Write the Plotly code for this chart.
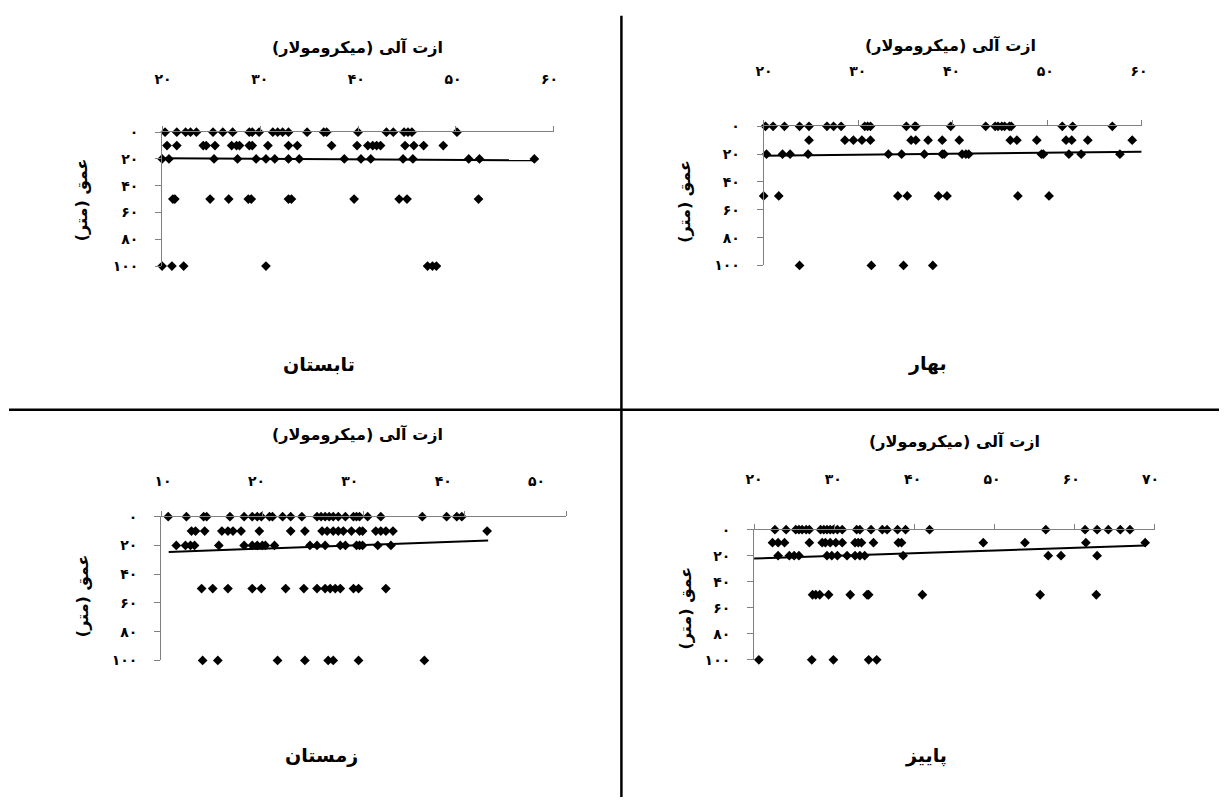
import plotly.graph_objects as go

W, H = 1225, 805
FONT = "DejaVu Sans"
RLM = "\u200f"

# ---------------- data ----------------
DEPTH_LEVELS = [0, 10, 20, 50, 100]
Y_TICKS = [0, 20, 40, 60, 80, 100]
Y_TICKTEXT = ["۰", "۲۰", "۴۰", "۶۰", "۸۰", "۱۰۰"]
X_TITLE = "ازت آلی (میکرومولار)"
Y_TITLE = "عمق (متر)"

# summer (تابستان) - nitrogen values per depth level
summer_d0 = [20.3, 21.5, 22.4, 22.9, 23.5, 25.2, 26.2, 27.2, 28.9, 29.2, 29.9, 31.3, 31.8, 32.3, 32.9,
             34.8, 36.5, 36.8, 40.0, 42.9, 43.6, 44.7, 45.1, 45.5, 50.1]
summer_d10 = [20.5, 21.5, 24.2, 24.5, 25.4, 27.1, 27.6, 27.9, 28.9, 29.2, 30.8, 32.9, 33.8, 37.3, 39.9,
              41.0, 41.5, 41.9, 42.3, 44.8, 45.7, 46.7, 48.7]
summer_d20 = [20.0, 20.7, 25.3, 27.7, 29.6, 30.6, 31.5, 32.9, 34.0, 38.6, 40.3, 41.3, 44.6, 45.6, 51.3,
              52.4, 58.0]
summer_d50 = [21.1, 21.3, 24.9, 26.8, 28.8, 29.1, 32.9, 33.2, 39.6, 44.2, 45.0, 52.3]
summer_d100 = [20.0, 21.0, 22.2, 30.6, 47.1, 47.6, 48.0]
summer_trend_x = [20.0, 58.0]
summer_trend_y = [19.5, 21.0]
summer_xticks = [20, 30, 40, 50, 60]
summer_xticktext = ["۲۰", "۳۰", "۴۰", "۵۰", "۶۰"]

# spring (بهار)
spring_d0 = [20.2, 21.0, 22.2, 23.8, 24.8, 26.7, 27.4, 28.2, 30.7, 31.0, 31.3, 35.1, 36.0, 36.1, 39.8,
             43.5, 44.5, 44.8, 45.2, 45.5, 46.0, 46.2, 51.6, 52.7, 56.9]
spring_d10 = [24.8, 28.6, 29.5, 30.4, 31.3, 35.6, 36.1, 37.4, 38.9, 40.7, 46.1, 46.8, 48.9, 52.0, 52.6,
              54.3, 59.0]
spring_d20 = [20.3, 22.0, 22.8, 24.7, 33.2, 34.6, 37.0, 38.9, 39.1, 41.0, 41.4, 41.7, 49.4, 49.6, 52.3,
              53.6, 57.7]
spring_d50 = [20.0, 21.6, 34.2, 35.2, 38.5, 39.4, 46.9, 50.2]
spring_d100 = [23.8, 31.4, 34.8, 37.9]
spring_trend_x = [20.0, 60.0]
spring_trend_y = [21.1, 18.3]
spring_xticks = [20, 30, 40, 50, 60]
spring_xticktext = ["۲۰", "۳۰", "۴۰", "۵۰", "۶۰"]

# winter (زمستان)
winter_d0 = [10.7, 12.5, 14.2, 14.5, 16.8, 18.2, 19.0, 19.5, 19.9, 20.7, 21.0, 22.0, 22.8, 23.9, 25.4,
             25.8, 26.2, 26.6, 27.0, 27.5, 28.2, 29.0, 29.3, 29.6, 30.4, 31.7, 35.8, 38.2, 39.2, 39.7]
winter_d10 = [13.0, 13.4, 14.3, 16.0, 16.6, 17.1, 17.9, 19.7, 22.8, 24.2, 25.9, 26.4, 27.0, 27.5, 28.0,
              28.8, 29.6, 29.9, 31.2, 31.7, 32.2, 32.9, 42.2]
winter_d20 = [11.5, 12.4, 12.9, 13.3, 15.7, 18.2, 19.0, 19.5, 20.0, 20.3, 21.2, 24.7, 25.4, 26.2, 27.7,
              28.2, 29.3, 29.6, 29.9, 31.4, 32.7]
winter_d50 = [14.0, 15.1, 16.6, 19.0, 19.9, 22.3, 24.1, 25.4, 26.2, 26.7, 27.2, 27.7, 29.0, 29.5, 32.2]
winter_d100 = [14.1, 15.6, 21.5, 24.2, 26.5, 27.0, 29.5, 36.0]
winter_trend_x = [10.75, 42.3]
winter_trend_y = [24.5, 16.6]
winter_xticks = [10, 20, 30, 40, 50]
winter_xticktext = ["۱۰", "۲۰", "۳۰", "۴۰", "۵۰"]

# autumn (پاییز)
autumn_d0 = [22.6, 24.0, 25.2, 25.6, 26.0, 26.5, 26.9, 28.3, 28.7, 29.1, 29.5, 29.9, 30.4, 31.0, 32.8,
             33.2, 34.6, 36.0, 36.6, 37.9, 38.9, 41.9, 56.4, 61.3, 62.8, 64.2, 65.7, 66.9]
autumn_d10 = [22.3, 23.0, 23.8, 26.9, 28.5, 28.9, 29.5, 30.2, 31.0, 32.6, 33.0, 33.4, 34.9, 38.0, 38.4,
              48.6, 53.8, 61.4, 68.8]
autumn_d20 = [23.0, 24.4, 25.0, 25.6, 29.1, 29.7, 30.4, 31.6, 32.6, 33.2, 33.8, 38.6, 56.7, 58.3, 62.8]
autumn_d50 = [27.3, 27.7, 28.2, 29.3, 32.0, 34.1, 34.3, 41.0, 55.7, 62.7]
autumn_d100 = [20.6, 27.2, 29.9, 34.3, 35.3]
autumn_trend_x = [20.0, 68.8]
autumn_trend_y = [22.1, 12.1]
autumn_xticks = [20, 30, 40, 50, 60, 70]
autumn_xticktext = ["۲۰", "۳۰", "۴۰", "۵۰", "۶۰", "۷۰"]

season_names = ["تابستان", "بهار", "زمستان", "پاییز"]

# ---------------- layout geometry (pixels) ----------------
panels = [
    dict(rows=[summer_d0, summer_d10, summer_d20, summer_d50, summer_d100],
         tx=summer_trend_x, ty=summer_trend_y, xt=summer_xticks, xtt=summer_xticktext,
         x0=155, x1=551.7, y0=126.7, y1=263.3, xr=[20, 60], lab_y=71.7, lab_px=(155, 548.3),
         xtitle=(353, 40), ytitle=(73, 196), name=(314, 363)),
    dict(rows=[spring_d0, spring_d10, spring_d20, spring_d50, spring_d100],
         tx=spring_trend_x, ty=spring_trend_y, xt=spring_xticks, xtt=spring_xticktext,
         x0=764, x1=1146.7, y0=120.7, y1=262.7, xr=[20, 60], lab_y=63.3, lab_px=(763.3, 1145),
         xtitle=(953, 38), ytitle=(683, 197), name=(930, 363)),
    dict(rows=[winter_d0, winter_d10, winter_d20, winter_d50, winter_d100],
         tx=winter_trend_x, ty=winter_trend_y, xt=winter_xticks, xtt=winter_xticktext,
         x0=154, x1=564, y0=519, y1=665.7, xr=[10, 50], lab_y=481.7, lab_px=(155, 535),
         xtitle=(353, 435), ytitle=(74, 600), name=(316, 763)),
    dict(rows=[autumn_d0, autumn_d10, autumn_d20, autumn_d50, autumn_d100],
         tx=autumn_trend_x, ty=autumn_trend_y, xt=autumn_xticks, xtt=autumn_xticktext,
         x0=754.3, x1=1160, y0=532.3, y1=665, xr=[20, 70], lab_y=480, lab_px=(753.3, 1156.7),
         xtitle=(957, 442), ytitle=(685, 612), name=(928, 763)),
]

fig = go.Figure()
layout = dict(width=W, height=H, margin=dict(l=0, r=0, t=0, b=0), showlegend=False,
              paper_bgcolor="white", plot_bgcolor="white",
              font=dict(family=FONT, color="black"))
annotations = []
AXC = "#808080"
TICKFONT = dict(family=FONT, size=14, color="black", weight="bold")

for i, p in enumerate(panels, start=1):
    xs, ys = [], []
    for depth, row in zip(DEPTH_LEVELS, p["rows"]):
        xs += row
        ys += [depth] * len(row)
    xa = "x" if i == 1 else f"x{i}"
    ya = "y" if i == 1 else f"y{i}"
    fig.add_trace(go.Scatter(x=xs, y=ys, mode="markers", xaxis=xa, yaxis=ya, cliponaxis=False,
                             marker=dict(symbol="diamond", size=7.5, color="black"), hoverinfo="skip"))
    fig.add_trace(go.Scatter(x=p["tx"], y=p["ty"], mode="lines", xaxis=xa, yaxis=ya, cliponaxis=False,
                             line=dict(color="black", width=2), hoverinfo="skip"))
    # empty trace to attach the label axis
    lab = f"x{i + 4}"
    fig.add_trace(go.Scatter(x=[], y=[], xaxis=lab, yaxis=ya, hoverinfo="skip"))

    xdom = [p["x0"] / W, p["x1"] / W]
    ydom = [1 - p["y1"] / H, 1 - p["y0"] / H]
    layout[f"xaxis{'' if i == 1 else i}"] = dict(
        domain=xdom, range=p["xr"], side="top", anchor=ya, tickvals=p["xt"], showticklabels=False,
        ticks="outside", ticklen=5, tickcolor=AXC, showline=True, linecolor=AXC, linewidth=1,
        showgrid=False, zeroline=False, fixedrange=True)
    layout[f"yaxis{'' if i == 1 else i}"] = dict(
        domain=ydom, range=[100, 0], anchor=xa, tickvals=Y_TICKS, ticktext=Y_TICKTEXT,
        ticks="outside", ticklen=6, tickcolor=AXC, showline=True, linecolor=AXC, linewidth=1,
        showgrid=False, zeroline=False, ticklabelstandoff=14, tickfont=TICKFONT, fixedrange=True)
    # label axis: tick labels sit where they are in the picture
    a_px, b_px = p["lab_px"]
    v0, v1 = p["xt"][0], p["xt"][-1]
    scale = (b_px - a_px) / (v1 - v0)
    lr = [v0 + (p["x0"] - 1 - a_px) / scale, v0 + (p["x1"] + 1 - a_px) / scale]
    layout[f"xaxis{i + 4}"] = dict(
        overlaying=xa, anchor="free", position=1 - (p["lab_y"] + 9) / H, side="top", range=lr,
        tickvals=p["xt"], ticktext=p["xtt"], ticks="", showline=False, showgrid=False, zeroline=False,
        tickfont=TICKFONT, fixedrange=True)

    annotations.append(dict(x=p["xtitle"][0] / W, y=1 - p["xtitle"][1] / H, xref="paper", yref="paper",
                            text=X_TITLE + RLM, showarrow=False, xanchor="center", yanchor="middle",
                            font=dict(family=FONT, size=16, color="black", weight="bold")))
    annotations.append(dict(x=p["ytitle"][0] / W, y=1 - p["ytitle"][1] / H, xref="paper", yref="paper",
                            text=Y_TITLE + RLM, showarrow=False, textangle=-90, xanchor="center",
                            yanchor="middle", font=dict(family=FONT, size=16, color="black", weight="bold")))
    annotations.append(dict(x=p["name"][0] / W, y=1 - p["name"][1] / H, xref="paper", yref="paper",
                            text=season_names[i - 1], showarrow=False, xanchor="center", yanchor="middle",
                            font=dict(family=FONT, size=19, color="black", weight="bold")))

layout["annotations"] = annotations
layout["shapes"] = [
    dict(type="line", xref="paper", yref="paper", x0=620 / W, x1=620 / W, y0=0, y1=1 - 8 / H,
         line=dict(color="black", width=2.5)),
    dict(type="line", xref="paper", yref="paper", x0=0, x1=1, y0=1 - 410 / H, y1=1 - 410 / H,
         line=dict(color="black", width=2.5)),
]
fig.update_layout(**layout)
fig.write_html("out.html")
